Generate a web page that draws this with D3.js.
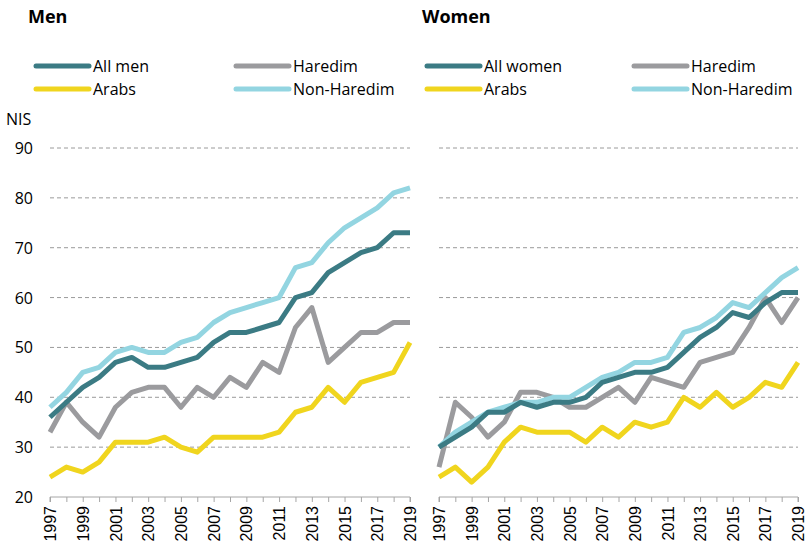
<!DOCTYPE html>
<html>
<head>
<meta charset="utf-8">
<script src="https://cdn.jsdelivr.net/npm/d3@7"></script>
<style>
  body { margin: 0; background: #fff; }
  svg { font-family: "Open Sans", sans-serif; }
  .title { font-weight: bold; font-size: 18px; }
  .tick text { font-size: 16px; fill: #000; }
  .legend text { font-size: 16px; }
</style>
</head>
<body>
<div id="d3-container"></div>
<script>
const years = d3.range(1997, 2020);

const menAll = [36, 39, 42, 44, 47, 48, 46, 46, 47, 48, 51, 53, 53, 54, 55, 60, 61, 65, 67, 69, 70, 73, 73];
const menHaredim = [33, 39, 35, 32, 38, 41, 42, 42, 38, 42, 40, 44, 42, 47, 45, 54, 58, 47, 50, 53, 53, 55, 55];
const menArabs = [24, 26, 25, 27, 31, 31, 31, 32, 30, 29, 32, 32, 32, 32, 33, 37, 38, 42, 39, 43, 44, 45, 51];
const menNonHaredim = [38, 41, 45, 46, 49, 50, 49, 49, 51, 52, 55, 57, 58, 59, 60, 66, 67, 71, 74, 76, 78, 81, 82];

const womenAll = [30, 32, 34, 37, 37, 39, 38, 39, 39, 40, 43, 44, 45, 45, 46, 49, 52, 54, 57, 56, 59, 61, 61];
const womenHaredim = [26, 39, 36, 32, 35, 41, 41, 40, 38, 38, 40, 42, 39, 44, 43, 42, 47, 48, 49, 54, 60, 55, 60];
const womenArabs = [24, 26, 23, 26, 31, 34, 33, 33, 33, 31, 34, 32, 35, 34, 35, 40, 38, 41, 38, 40, 43, 42, 47];
const womenNonHaredim = [30, 33, 35, 37, 38, 39, 39, 40, 40, 42, 44, 45, 47, 47, 48, 53, 54, 56, 59, 58, 61, 64, 66];

const yTicks = [20, 30, 40, 50, 60, 70, 80, 90];

const colors = {
  all: "#3b7b84",
  haredim: "#9b9b9e",
  arabs: "#f0d51e",
  nonHaredim: "#93d5e1"
};

const width = 807, height = 549;

const svg = d3.select("#d3-container")
  .append("svg")
  .attr("width", width)
  .attr("height", height);

const yScale = d3.scaleLinear().domain([20, 90]).range([497, 148]);

const panels = [
  {
    title: "Men", titleX: 28, x0: 50, x1: 410, showY: true,
    legendX: [36, 236],
    series: [
      { name: "All men", key: "all", values: menAll },
      { name: "Haredim", key: "haredim", values: menHaredim },
      { name: "Arabs", key: "arabs", values: menArabs },
      { name: "Non-Haredim", key: "nonHaredim", values: menNonHaredim }
    ]
  },
  {
    title: "Women", titleX: 422, x0: 439, x1: 798, showY: false,
    legendX: [427, 634],
    series: [
      { name: "All women", key: "all", values: womenAll },
      { name: "Haredim", key: "haredim", values: womenHaredim },
      { name: "Arabs", key: "arabs", values: womenArabs },
      { name: "Non-Haredim", key: "nonHaredim", values: womenNonHaredim }
    ]
  }
];

// drawing order: back to front
const drawOrder = ["arabs", "haredim", "nonHaredim", "all"];

panels.forEach(p => {
  const xScale = d3.scaleLinear().domain([1997, 2019]).range([p.x0, p.x1]);
  const g = svg.append("g");

  g.append("text")
    .attr("class", "title")
    .attr("x", p.titleX)
    .attr("y", 23)
    .text(p.title);

  // legend
  const legend = g.append("g").attr("class", "legend");
  p.series.forEach((s, i) => {
    const lx = p.legendX[i % 2];
    const ly = i < 2 ? 66 : 89;
    legend.append("line")
      .attr("x1", lx).attr("x2", lx + 53)
      .attr("y1", ly).attr("y2", ly)
      .attr("stroke", colors[s.key])
      .attr("stroke-width", 5)
      .attr("stroke-linecap", "round");
    legend.append("text")
      .attr("x", lx + 57)
      .attr("y", ly + 6)
      .text(s.name);
  });

  // gridlines
  g.selectAll(".grid")
    .data(yTicks.filter(d => d > 20))
    .join("line")
    .attr("class", "grid")
    .attr("x1", p.x0).attr("x2", p.x1)
    .attr("y1", d => yScale(d)).attr("y2", d => yScale(d))
    .attr("stroke", "#9a9a9a")
    .attr("stroke-width", 1)
    .attr("stroke-dasharray", "4,3");

  if (p.showY) {
    g.selectAll(".ylab")
      .data(yTicks)
      .join("text")
      .attr("class", "ylab")
      .attr("x", 33)
      .attr("y", d => yScale(d) + 6)
      .attr("text-anchor", "end")
      .attr("font-size", 16)
      .text(d => d);
    g.append("text")
      .attr("x", 6).attr("y", 125)
      .attr("font-size", 16)
      .text("NIS");
  }

  // x axis
  const xAxis = d3.axisBottom(xScale)
    .tickValues(years)
    .tickSize(5)
    .tickFormat(d => (d % 2 === 1 ? d : ""));

  const ax = g.append("g")
    .attr("class", "axis")
    .attr("transform", `translate(0, ${yScale(20)})`)
    .call(xAxis);
  ax.select(".domain").attr("stroke", "#a6a6a6").attr("d", `M${p.x0},5V0H${p.x1}V5`);
  ax.selectAll(".tick line").attr("stroke", "#a6a6a6");
  ax.selectAll(".tick text")
    .attr("transform", "rotate(-90)")
    .attr("text-anchor", "end")
    .attr("x", -9)
    .attr("y", 0)
    .attr("dy", "0.35em");

  const line = d3.line()
    .x((d, i) => xScale(years[i]))
    .y(d => yScale(d));

  drawOrder.forEach(k => {
    const s = p.series.find(s => s.key === k);
    g.append("path")
      .datum(s.values)
      .attr("fill", "none")
      .attr("stroke", colors[k])
      .attr("stroke-width", 5)
      .attr("stroke-linejoin", "round")
      .attr("d", line);
  });
});
</script>
</body>
</html>
